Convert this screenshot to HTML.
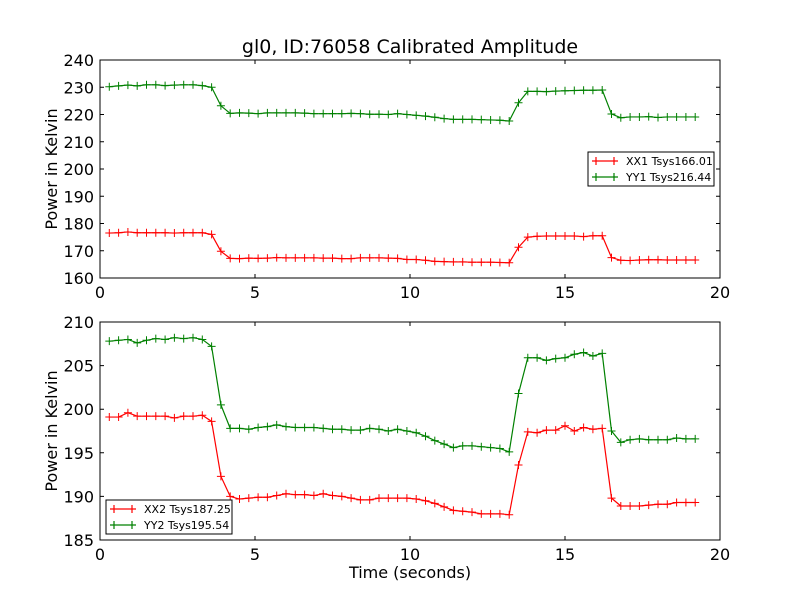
<!DOCTYPE html>
<html><head><meta charset="utf-8"><style>
body{margin:0;background:#fff}
svg{font-family:"DejaVu Sans","Liberation Sans",sans-serif}
</style></head><body>
<svg id="chart" width="800" height="600" xmlns="http://www.w3.org/2000/svg">
<rect width="800" height="600" fill="#fff"/>
<text x="410" y="53" font-size="19" text-anchor="middle">gl0, ID:76058 Calibrated Amplitude</text>
</svg>
<script>
const xx1 = [176.5,176.6,176.9,176.6,176.6,176.6,176.6,176.5,176.6,176.6,176.6,176.0,169.8,
167.2,167.1,167.3,167.2,167.3,167.5,167.4,167.4,167.4,167.4,167.3,167.3,167.1,167.1,167.4,167.4,167.4,167.3,167.2,166.8,166.8,166.5,166.1,166.0,165.9,165.9,165.8,165.8,165.8,165.7,
165.6,171.3,175.0,175.3,175.4,175.4,175.4,175.4,175.2,175.5,175.5,167.5,166.5,166.4,166.6,166.7,166.7,166.6,166.6,166.6,166.6];
const yy1 = [230.2,230.5,230.8,230.5,230.9,230.9,230.6,230.8,230.9,230.9,230.6,230.0,223.2,
220.4,220.6,220.5,220.3,220.6,220.6,220.6,220.6,220.5,220.3,220.3,220.3,220.3,220.4,220.3,220.1,220.1,220.0,220.3,220.0,219.7,219.4,219.0,218.5,218.2,218.2,218.2,218.1,218.0,217.9,
217.6,224.3,228.5,228.5,228.4,228.6,228.7,228.8,228.9,228.9,229.0,220.2,218.8,219.1,219.1,219.2,218.9,219.1,219.1,219.1,219.1];
const xx2 = [199.1,199.1,199.6,199.2,199.2,199.2,199.2,199.0,199.2,199.2,199.3,198.6,192.3,
190.0,189.7,189.8,189.9,189.9,190.1,190.3,190.2,190.2,190.1,190.3,190.1,190.0,189.8,189.6,189.6,189.8,189.8,189.8,189.8,189.7,189.5,189.2,188.8,188.4,188.3,188.2,188.0,188.0,188.0,
187.9,193.6,197.4,197.3,197.6,197.6,198.1,197.5,197.9,197.7,197.8,189.8,188.9,188.9,188.9,189.0,189.1,189.1,189.3,189.3,189.3];
const yy2 = [207.8,207.9,208.0,207.6,207.9,208.1,208.0,208.2,208.1,208.2,208.0,207.2,200.5,
197.8,197.8,197.7,197.9,198.0,198.2,198.0,197.9,197.9,197.9,197.8,197.7,197.7,197.6,197.6,197.8,197.7,197.5,197.7,197.5,197.3,196.9,196.4,196.0,195.6,195.8,195.8,195.7,195.6,195.5,
195.1,201.8,205.9,205.9,205.6,205.8,205.9,206.3,206.5,206.1,206.4,197.5,196.2,196.5,196.6,196.5,196.5,196.5,196.7,196.6,196.6];
const times = xx1.map((_, i) => +(0.3 * (i + 1)).toFixed(1));
const xTicks = [0, 5, 10, 15, 20];
const yTicksTop = [160,170,180,190,200,210,220,230,240];
const yTicksBot = [185,190,195,200,205,210];

const NS = "http://www.w3.org/2000/svg";
const svg = document.getElementById('chart');
function mk(tag, attrs, parent) {
  const e = document.createElementNS(NS, tag);
  for (const k in attrs) e.setAttribute(k, attrs[k]);
  (parent || svg).appendChild(e);
  return e;
}
const L = 100, R = 720;
const xs = t => L + (t - 0) / 20 * (R - L);

function panel(name, top, bot, ymin, ymax, yTicks, series, legend, showXLabel) {
  const g = mk('g', {});
  
  
  const ys = v => bot - (v - ymin) / (ymax - ymin) * (bot - top);
  // series
  series.forEach(s => {
    const sg = mk('g', {}, g);
    
    
    const pts = s.data.map((v, i) => xs(times[i]).toFixed(2) + ',' + ys(v).toFixed(2)).join(' ');
    mk('polyline', {points: pts, fill: 'none', stroke: s.color, 'stroke-width': 1.2}, sg);
    s.data.forEach((v, i) => {
      const x = xs(times[i]), y = ys(v);
      const p = mk('path', {d: `M${x-4},${y}H${x+4}M${x},${y-4}V${y+4}`, stroke: s.color, 'stroke-width': 1}, sg);
      
      
    });
  });
  // frame
  mk('rect', {x: L, y: top, width: R - L, height: bot - top, fill: 'none', stroke: '#000', 'stroke-width': 1}, g);
  // x ticks
  xTicks.forEach(t => {
    const x = xs(t);
    mk('path', {d: `M${x},${bot}v-4M${x},${top}v4`, stroke: '#000'}, g);
    const tx = mk('text', {x: x, y: bot + 20, 'font-size': 16, 'text-anchor': 'middle'}, g);
    
    
    tx.textContent = t;
  });
  yTicks.forEach(v => {
    const y = ys(v);
    mk('path', {d: `M${L},${y}h4M${R},${y}h-4`, stroke: '#000'}, g);
    const tx = mk('text', {x: L - 6, y: y + 6, 'font-size': 16, 'text-anchor': 'end'}, g);
    
    
    tx.textContent = v;
  });
  const yl = mk('text', {x: 57, y: (top + bot) / 2, 'font-size': 16, 'text-anchor': 'middle', transform: `rotate(-90 57 ${(top+bot)/2})`}, g);
  
  
  yl.textContent = 'Power in Kelvin';
  if (showXLabel) {
    const xl = mk('text', {x: 410, y: 578, 'font-size': 16, 'text-anchor': 'middle'}, g);
    
    
    xl.textContent = 'Time (seconds)';
  }
  // legend
  const lg = mk('g', {}, g);
  
  
  mk('rect', {x: legend.x, y: legend.y, width: 126, height: 34, fill: '#fff', stroke: '#000', 'stroke-width': 1}, lg);
  series.forEach((s, i) => {
    const yy = legend.y + 9 + i * 16;
    const e = mk('g', {}, lg);
    
    
    const x0 = legend.x + 4;
    mk('path', {d: `M${x0},${yy}h26M${x0+4},${yy-4}v8M${x0+22},${yy-4}v8`, stroke: s.color, 'stroke-width': 1.2}, e);
    const t = mk('text', {x: x0 + 34, y: yy + 4, 'font-size': 11}, e);
    t.textContent = s.label;
  });
}
panel('top-panel', 60, 278, 160, 240, yTicksTop,
  [{name: 'xx1-series', data: xx1, color: '#ff0000', label: 'XX1 Tsys166.01'},
   {name: 'yy1-series', data: yy1, color: '#008000', label: 'YY1 Tsys216.44'}],
  {x: 588, y: 152}, false);
panel('bottom-panel', 322, 540, 185, 210, yTicksBot,
  [{name: 'xx2-series', data: xx2, color: '#ff0000', label: 'XX2 Tsys187.25'},
   {name: 'yy2-series', data: yy2, color: '#008000', label: 'YY2 Tsys195.54'}],
  {x: 106, y: 500}, true);
</script>
</body></html>
